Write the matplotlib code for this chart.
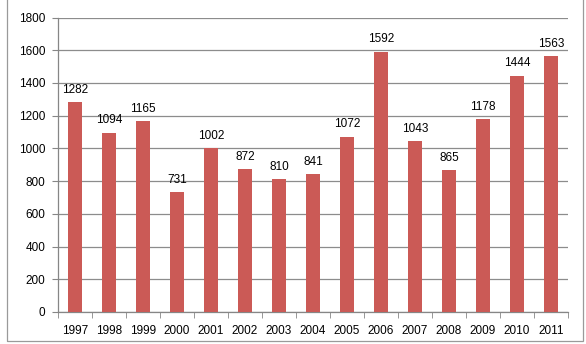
import matplotlib
matplotlib.use("Agg")
import matplotlib.pyplot as plt
from matplotlib.patches import Rectangle
import numpy as np

years = ["1997", "1998", "1999", "2000", "2001", "2002", "2003", "2004",
         "2005", "2006", "2007", "2008", "2009", "2010", "2011"]
values = [1282, 1094, 1165, 731, 1002, 872, 810, 841, 1072, 1592, 1043, 865, 1178, 1444, 1563]
yticks = [0, 200, 400, 600, 800, 1000, 1200, 1400, 1600, 1800]

plt.rcParams['font.family'] = ['Liberation Sans', 'DejaVu Sans']

fig = plt.figure(figsize=(5.86, 3.44), dpi=100)
fig.patch.set_facecolor("white")
ax = fig.add_axes([58/586, 1 - 312/344, 510/586, (312 - 17.5)/344])

fs = 8.5
x = np.arange(len(years))
ax.bar(x, values, width=0.39, color="#CB5A56", zorder=3)
for xi, v in zip(x, values):
    ax.text(xi, v + 40, str(v), ha="center", va="bottom", fontsize=fs, color="black", zorder=4)

ax.set_xlim(-0.5, len(years) - 0.5)
ax.set_ylim(0, 1800)
ax.set_yticks(yticks)
ax.set_yticklabels([str(t) for t in yticks], fontsize=fs)
ax.set_xticks(x)
ax.set_xticklabels(years, fontsize=fs)
ax.set_xticks(np.arange(-0.5, len(years) + 0.5, 1), minor=True)
ax.tick_params(axis="x", which="major", length=0, pad=9.5)
ax.tick_params(axis="x", which="minor", length=4, color="#868686", direction="out")
ax.tick_params(axis="y", length=4, color="#868686", direction="out", pad=5)

ax.grid(axis="y", color="#8C8C8C", linewidth=0.9, zorder=0)
for s in ["top", "right"]:
    ax.spines[s].set_visible(False)
for s in ["left", "bottom"]:
    ax.spines[s].set_color("#868686")
    ax.spines[s].set_linewidth(0.9)

border = Rectangle((7/586, 1 - 340.5/344), (583 - 7)/586, 1.0, transform=fig.transFigure,
                   fill=False, edgecolor="#9A9A9A", linewidth=0.9)
fig.patches.append(border)

fig.savefig("out.png", dpi=100)
